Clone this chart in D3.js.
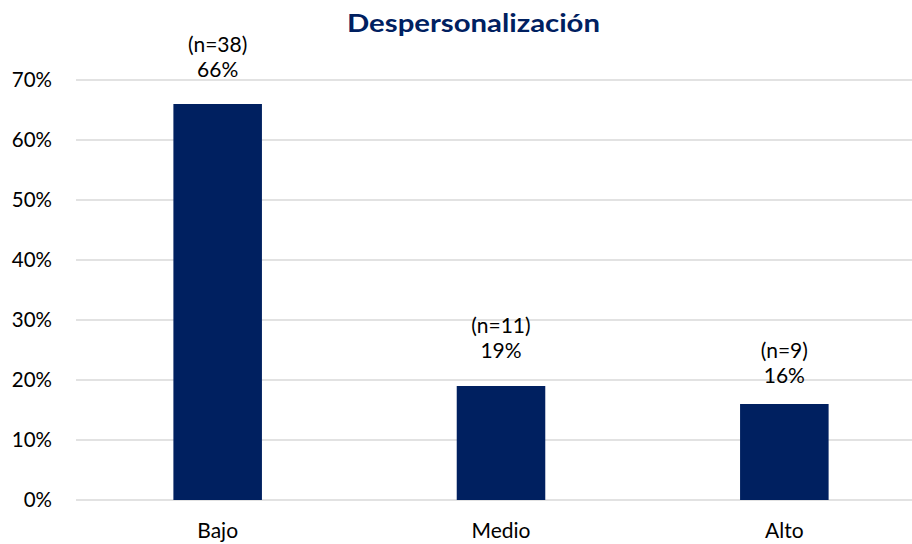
<!DOCTYPE html>
<html><head><meta charset="utf-8">
<script src="https://cdn.jsdelivr.net/npm/d3@7"></script>
<style>body{margin:0;background:#fff}svg{display:block}</style>
</head><body>
<svg id="c" width="912" height="544"></svg>
<script>
const categories = ["Bajo", "Medio", "Alto"];
const values = [66, 19, 16];
const counts = [38, 11, 9];
const yTicks = [0, 10, 20, 30, 40, 50, 60, 70];
const title = "Despersonalización";

(function () {
const svg = d3.select("#c");
const font = "Lato, 'Open Sans', sans-serif";
const navy = "#002060";
const fs = 21;
const plotLeft = 76, plotRight = 926, plotTop = 80, plotBottom = 500;

const x = d3.scaleBand().domain(categories).range([plotLeft, plotRight]).paddingInner(0.6875).paddingOuter(0.34375);
const y = d3.scaleLinear().domain([0, 70]).range([plotBottom, plotTop]);

svg.append("text").attr("x", 473.5).attr("y", 32).attr("text-anchor", "middle")
  .attr("font-family", font).attr("font-weight", "bold").attr("font-size", 25)
  .attr("textLength", 253).attr("lengthAdjust", "spacingAndGlyphs")
  .attr("fill", navy).text(title);

const g = svg.append("g");
g.selectAll("line.grid").data(yTicks).join("line").attr("class", "grid")
  .attr("x1", plotLeft).attr("x2", 912).attr("y1", d => y(d)).attr("y2", d => y(d))
  .attr("stroke", "#d9d9d9").attr("stroke-width", 1.5);

g.selectAll("text.yt").data(yTicks).join("text").attr("class", "yt")
  .attr("x", 52).attr("y", d => y(d)).attr("dy", "0.33em").attr("text-anchor", "end")
  .attr("font-family", font).attr("font-size", 20.5).attr("fill", "#000").text(d => d + "%");

g.selectAll("rect.bar").data(values).join("rect").attr("class", "bar")
  .attr("x", (d, i) => x(categories[i])).attr("width", x.bandwidth())
  .attr("y", d => y(d)).attr("height", d => plotBottom - y(d)).attr("fill", navy);

const offs = [27, 28, 21];
values.forEach((v, i) => {
  const cx = x(categories[i]) + x.bandwidth() / 2;
  const by = y(v) - offs[i];
  g.append("text").attr("x", cx).attr("y", by).attr("text-anchor", "middle")
    .attr("font-family", font).attr("font-size", fs).attr("fill", "#000").text(v + "%");
  g.append("text").attr("x", cx).attr("y", by - 25).attr("text-anchor", "middle")
    .attr("font-family", font).attr("font-size", fs).attr("fill", "#000").text("(n=" + counts[i] + ")");
  g.append("text").attr("x", cx).attr("y", 538).attr("text-anchor", "middle")
    .attr("font-family", font).attr("font-size", fs).attr("fill", "#000").text(categories[i]);
});
})();
</script>
</body></html>
